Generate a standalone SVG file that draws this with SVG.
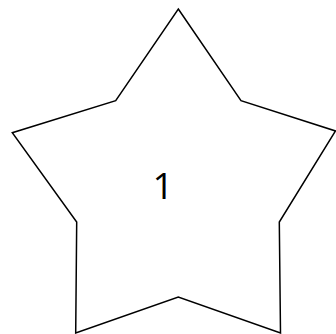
<svg xmlns="http://www.w3.org/2000/svg" width="336" height="334" viewBox="0 0 336 334">
<style>
.shape{fill:#ffffff;stroke:#000000;stroke-width:1.5;stroke-linejoin:miter}
.label{font-family:"Open Sans","Noto Sans",sans-serif;font-size:37px;fill:#000000;text-anchor:middle}
</style>
<rect width="336" height="334" fill="#ffffff"/>
<g id="node1">
<polygon class="shape" points="178.3,9 241,100.7 335.5,131 279.3,222 280.5,333 178.3,297 75.7,333 76.7,222 12.3,132.7 115.7,100.7"/>
<text class="label" x="163" y="199">1</text>
</g>
<g id="connectors"/>
</svg>
